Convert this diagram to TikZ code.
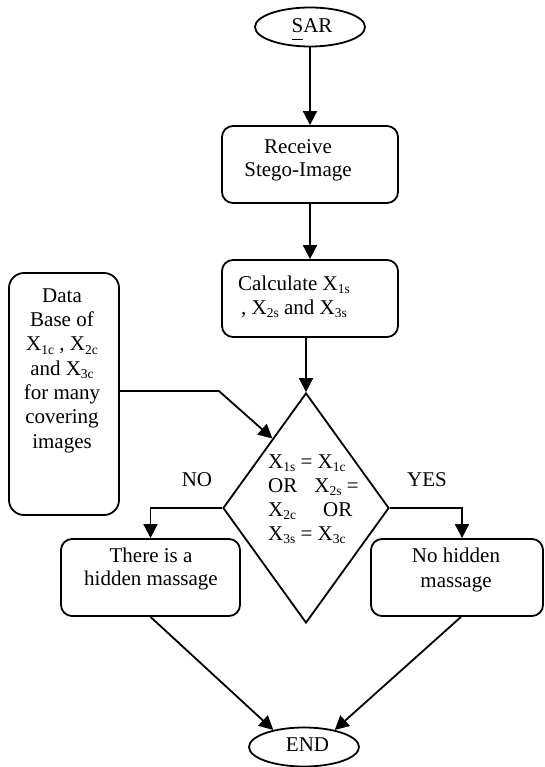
\documentclass[tikz,border=0pt]{standalone}
\usepackage{fontspec}
\setmainfont{Liberation Serif}
\usetikzlibrary{arrows.meta,shapes.geometric,calc}
\newcommand\sbx[1]{\raisebox{-3.5pt}{\fontsize{13.5}{13.5}\selectfont #1}}
\begin{document}
\begin{tikzpicture}[x=1pt,y=-1pt,
  every node/.style={font=\fontsize{21}{24}\selectfont},
  boxst/.style={draw,line width=1.8pt,rounded corners=11pt,rectangle,inner sep=0pt},
  ovalst/.style={draw,line width=1.8pt,ellipse,inner sep=0pt,minimum width=110pt,minimum height=39pt},
  txt/.style={inner sep=0pt,align=center,anchor=base},
  arr/.style={line width=1.8pt,-{Triangle[length=14pt,width=14pt]}}]
\useasboundingbox (0,0) rectangle (545,767);
% top ellipse
\node[ovalst] (sar) at (310,27) {};
\node[txt] (sarT) at (312,33) {SAR};
\draw[line width=0.8pt] (292,39.5) -- (303,39.5);
% process boxes (multi-line text: base anchor = last line's baseline)
\node[boxst,minimum width=176pt,minimum height=77pt] (recv) at (310,164.5) {};
\node[txt,font=\fontsize{21}{23}\selectfont] (recvT) at (298,177) {Receive\\Stego-Image};
\node[boxst,minimum width=176pt,minimum height=77pt] (calc) at (310,298.5) {};
\node[txt] (calcT) at (294,314) {Calculate X\sbx{1s}\\, X\sbx{2s} and X\sbx{3s}};
% decision
\node[draw,line width=1.8pt,diamond,inner sep=0pt,minimum width=166pt,minimum height=230pt] (dia) at (306,508) {};
\node[txt,align=left,anchor=base west] (diaT) at (268,540) {X\sbx{1s} = X\sbx{1c}\\OR\hspace{17pt}X\sbx{2s} =\\X\sbx{2c}\hspace{27pt}OR\\X\sbx{3s} = X\sbx{3c}};
% data base
\node[boxst,minimum width=110pt,minimum height=242pt,rounded corners=15pt] (db) at (64,394) {};
\node[txt,font=\fontsize{21}{24.3}\selectfont] (dbT) at (62,448) {Data\\Base of\\X\sbx{1c} , X\sbx{2c}\\and X\sbx{3c}\\for many\\covering\\images};
% labels
\node[txt] (no) at (197,486) {NO};
\node[txt] (yes) at (427,486) {YES};
% outcome boxes
\node[boxst,minimum width=179pt,minimum height=77pt] (there) at (150.5,577.5) {};
\node[txt,font=\fontsize{21}{23.5}\selectfont] (thereT) at (151,585.5) {There is a\\hidden massage};
\node[boxst,minimum width=172pt,minimum height=77pt] (nohid) at (457,577.5) {};
\node[txt,font=\fontsize{21}{25}\selectfont] (nohidT) at (456,587) {No hidden\\massage};
% end
\node[ovalst] (end) at (304,747) {};
\node[txt] (endT) at (307.5,751) {END};
% connectors
\draw[arr] (sar) -- (recv);
\draw[arr] (recv) -- (calc);
\draw[arr] (dia.north |- calc.south) -- (dia.north);
\draw[arr] ([yshift=3pt]db.east) -- ++(99,0) -- ($(dia.north)!0.4!(dia.west)$);
\draw[arr] (dia.west) -| (there.north);
\draw[arr] (dia.east) -| ([xshift=5pt]nohid.north);
\draw[arr] (there.south) -- (end.151);
\draw[arr] ([xshift=4pt]nohid.south) -- (end.29);
\end{tikzpicture}
\end{document}
